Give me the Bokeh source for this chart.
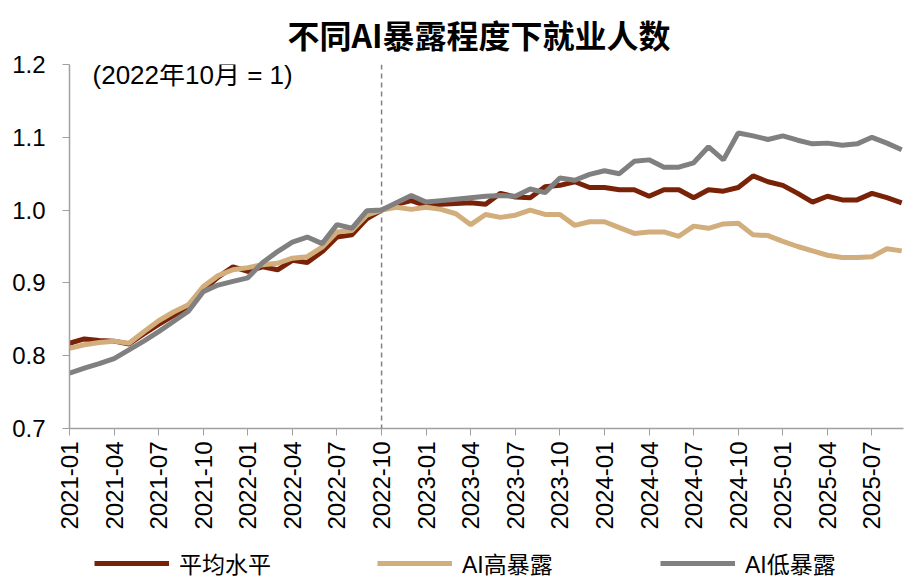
import math
from bokeh.plotting import figure
from bokeh.layouts import column
from bokeh.models import (ColumnDataSource, Span, Label, Legend, LegendItem,
                          FixedTicker, NumeralTickFormatter, Range1d)
from bokeh.embed import file_html
from bokeh.resources import INLINE

months = [f"{y}-{m:02d}" for y in range(2021, 2026) for m in range(1, 13)][:57]

avg_level = [0.817, 0.823, 0.821, 0.820, 0.816, 0.830, 0.843, 0.855, 0.866, 0.890,
             0.908, 0.922, 0.916, 0.922, 0.918, 0.931, 0.928, 0.943, 0.963, 0.966,
             0.988, 1.000, 1.008, 1.013, 1.006, 1.008, 1.009, 1.010, 1.008, 1.023,
             1.018, 1.017, 1.032, 1.034, 1.039, 1.031, 1.031, 1.028, 1.028, 1.019,
             1.028, 1.028, 1.017, 1.028, 1.026, 1.031, 1.047, 1.039, 1.034, 1.023,
             1.011, 1.019, 1.014, 1.014, 1.023, 1.017, 1.010]

high_ai = [0.810, 0.815, 0.818, 0.820, 0.817, 0.833, 0.848, 0.860, 0.870, 0.895,
           0.910, 0.918, 0.921, 0.925, 0.927, 0.934, 0.936, 0.949, 0.970, 0.972,
           0.993, 1.000, 1.004, 1.001, 1.004, 1.001, 0.995, 0.980, 0.994, 0.990,
           0.993, 1.000, 0.994, 0.994, 0.979, 0.984, 0.984, 0.976, 0.968, 0.970,
           0.970, 0.964, 0.978, 0.975, 0.981, 0.982, 0.966, 0.965, 0.957, 0.950,
           0.944, 0.938, 0.935, 0.935, 0.936, 0.947, 0.944]

low_ai = [0.776, 0.783, 0.789, 0.796, 0.808, 0.820, 0.833, 0.847, 0.861, 0.888,
          0.897, 0.902, 0.907, 0.928, 0.943, 0.956, 0.963, 0.954, 0.980, 0.975,
          0.999, 1.000, 1.010, 1.020, 1.011, 1.013, 1.015, 1.017, 1.019, 1.020,
          1.019, 1.029, 1.024, 1.044, 1.041, 1.049, 1.054, 1.050, 1.067, 1.069,
          1.059, 1.059, 1.065, 1.087, 1.069, 1.106, 1.102, 1.097, 1.102, 1.096,
          1.091, 1.092, 1.089, 1.091, 1.100, 1.092, 1.083]

series_names = ["平均水平", "AI高暴露", "AI低暴露"]
colors = ["#7A2208", "#D2AE7C", "#808080"]
y_ticks = [0.7, 0.8, 0.9, 1.0, 1.1, 1.2]
base_month = "2022-10"
title_text = "不同AI暴露程度下就业人数"
note_text = "(2022年10月 = 1)"

xs = list(range(len(months)))
src = ColumnDataSource(dict(x=xs, avg=avg_level, high=high_ai, low=low_ai))

FONT = "Liberation Sans, Noto Sans CJK SC"

p = figure(width=913, height=540, output_backend="svg", toolbar_location=None,
           x_range=Range1d(0, 56.12), y_range=Range1d(0.7, 1.2),
           min_border_left=69, min_border_right=10, min_border_top=62,
           min_border_bottom=112)
p.outline_line_color = None
p.grid.visible = False
p.background_fill_color = "white"

p.title.text = title_text
p.title.align = "left"
p.title.text_font = "Noto Sans CJK SC"
p.title.text_font_style = "bold"
p.title.text_font_size = "32px"
p.title.text_line_height = 1.0
p.title.text_color = "#000000"
p.title.offset = 218
p.title.standoff = 16

r_avg = p.line("x", "avg", source=src, line_color=colors[0], line_width=5)
r_high = p.line("x", "high", source=src, line_color=colors[1], line_width=5)
r_low = p.line("x", "low", source=src, line_color=colors[2], line_width=5)

bi = months.index(base_month)
p.add_layout(Span(location=bi, dimension="height", line_color="#808080",
                  line_width=1.5, line_dash="5 4"))

p.add_layout(Label(x=1.55, y=1.186, text=note_text, text_font=FONT,
                   text_font_size="26px", text_baseline="middle",
                   text_color="#000000"))

xt = list(range(0, len(months), 3))
p.xaxis.ticker = FixedTicker(ticks=xt)
p.xaxis.major_label_overrides = {i: months[i] for i in xt}
p.xaxis.major_label_orientation = math.pi / 2
p.xaxis.major_label_text_font = FONT
p.xaxis.major_label_text_font_size = "24px"
p.xaxis.major_label_text_color = "#000000"
p.xaxis.major_label_standoff = 6
p.xaxis.minor_tick_line_color = None
p.xaxis.major_tick_out = 7
p.xaxis.major_tick_in = 0
p.xaxis.axis_line_color = "#A0A0A0"
p.xaxis.major_tick_line_color = "#A0A0A0"
p.xaxis.axis_line_width = 1.5

p.yaxis.ticker = FixedTicker(ticks=y_ticks)
p.yaxis.formatter = NumeralTickFormatter(format="0.0")
p.yaxis.major_label_text_font = FONT
p.yaxis.major_label_text_font_size = "24px"
p.yaxis.major_label_text_color = "#000000"
p.yaxis.major_label_standoff = 17
p.yaxis.minor_tick_line_color = None
p.yaxis.major_tick_out = 7
p.yaxis.major_tick_in = 0
p.yaxis.axis_line_color = "#A0A0A0"
p.yaxis.major_tick_line_color = "#A0A0A0"
p.yaxis.axis_line_width = 1.5

# legend strip below the chart (series drawn out of view; only legend shows)
p2 = figure(width=913, height=45, output_backend="svg", toolbar_location=None,
            x_axis_location=None, y_axis_location=None,
            x_range=Range1d(0, 56.12), y_range=Range1d(10, 11),
            min_border_left=0, min_border_right=0, min_border_top=0,
            min_border_bottom=0)
p2.outline_line_color = None
p2.grid.visible = False
lr = [p2.line("x", col, source=src, line_color=c, line_width=5)
      for col, c in zip(["avg", "high", "low"], colors)]

legend = Legend(items=[LegendItem(label=n, renderers=[r]) for n, r in zip(series_names, lr)],
                orientation="horizontal", location=(25, 5))
legend.glyph_width = 75
legend.glyph_height = 30
legend.label_height = 30
legend.label_width = 183
legend.label_standoff = 10
legend.spacing = 15
legend.padding = 0
legend.margin = 0
legend.border_line_color = None
legend.background_fill_alpha = 0
legend.label_text_font = FONT
legend.label_text_font_size = "23px"
legend.label_text_color = "#000000"
p2.add_layout(legend)

layout = column(p, p2, spacing=0)
open("out.html", "w").write(file_html(layout, INLINE))
